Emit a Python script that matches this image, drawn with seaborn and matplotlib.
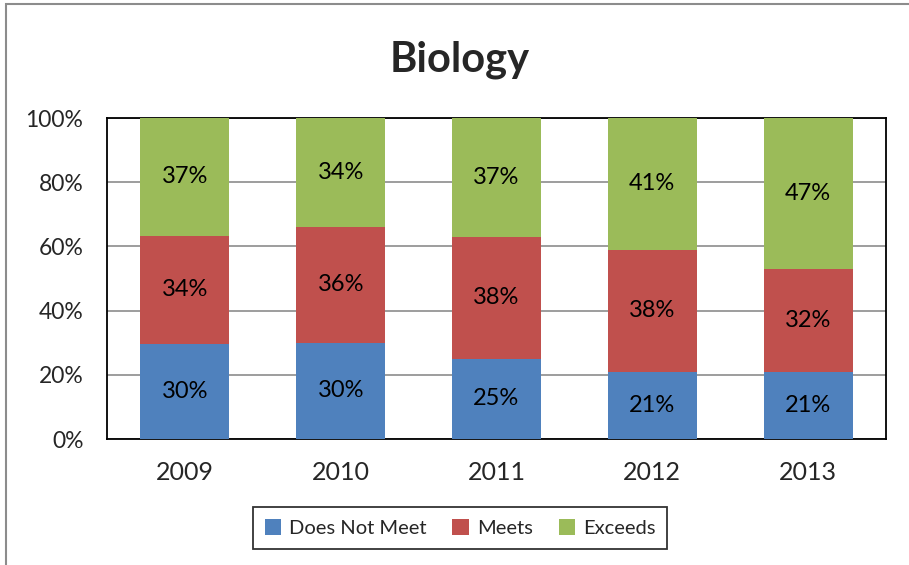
import numpy as np
import pandas as pd
import matplotlib
matplotlib.use("Agg")
import matplotlib.pyplot as plt
import seaborn as sns
from matplotlib.patches import Patch, Rectangle

years = ["2009", "2010", "2011", "2012", "2013"]
does_not_meet = [30, 30, 25, 21, 21]
meets = [34, 36, 38, 38, 32]
exceeds = [37, 34, 37, 41, 47]
series_names = ["Does Not Meet", "Meets", "Exceeds"]
colors = ["#4F81BD", "#C0504D", "#9BBB59"]

sns.set_theme(style="white")
plt.rcParams["font.family"] = ["Lato", "DejaVu Sans"]

raw = np.array([does_not_meet, meets, exceeds], dtype=float)
totals = raw.sum(axis=0)
norm = raw / totals * 100
cum = np.cumsum(norm, axis=0)

df = pd.DataFrame({"year": years})
for i, name in enumerate(series_names):
    df[name + "_cum"] = cum[i]

fig = plt.figure(figsize=(9.09, 5.65), dpi=100)
ax = fig.add_axes([107/909, 1 - 439/565, (886-107)/909, (439-118)/565])

# draw from top layer down so lower layers overlay
for i in reversed(range(3)):
    sns.barplot(data=df, x="year", y=series_names[i] + "_cum", color=colors[i],
                width=0.57, saturation=1, ax=ax, zorder=3, linewidth=0)

# labels
for j in range(len(years)):
    for i in range(3):
        bottom = cum[i][j] - norm[i][j]
        ax.text(j, bottom + norm[i][j] / 2, f"{int(raw[i][j])}%", ha="center",
                va="center", fontsize=17, color="black", zorder=5)

ax.set_ylim(0, 100)
ax.set_xlim(-0.5, 4.5)
ax.set_yticks([0, 20, 40, 60, 80, 100])
ax.set_yticklabels([f"{v}%" for v in [0, 20, 40, 60, 80, 100]], fontsize=16.5)
ax.set_xticks(range(len(years)))
ax.set_xticklabels(years, fontsize=18)
ax.set_xlabel("")
ax.set_ylabel("")
ax.yaxis.grid(True, color="#8C8C8C", linewidth=1.2, zorder=0)
ax.set_axisbelow(True)
ax.tick_params(axis="y", length=0, pad=17)
ax.tick_params(axis="x", length=0, pad=16)
for s in ax.spines.values():
    s.set_visible(True)
    s.set_color("black")
    s.set_linewidth(1.3)

fig.text(460/909, 1 - 60/565, "Biology", ha="center", va="center",
         fontsize=30, fontweight="bold")

handles = [Patch(facecolor=c, edgecolor="none") for c in colors]
leg = fig.legend(handles, series_names, loc="center", ncol=3,
                 bbox_to_anchor=(460/909, 1 - 528/565), fontsize=14.5,
                 frameon=True, fancybox=False, edgecolor="black",
                 handlelength=0.8, handleheight=0.8, handletextpad=0.4,
                 columnspacing=1.3, borderpad=0.6)
leg.get_frame().set_linewidth(1.3)

fig.patches.append(Rectangle((6/909, -0.1), 1.2, 1 - 4/565 + 0.1,
                             transform=fig.transFigure, fill=False,
                             edgecolor="#8C8C8C", linewidth=1.5))

fig.savefig("out.png", dpi=100)
